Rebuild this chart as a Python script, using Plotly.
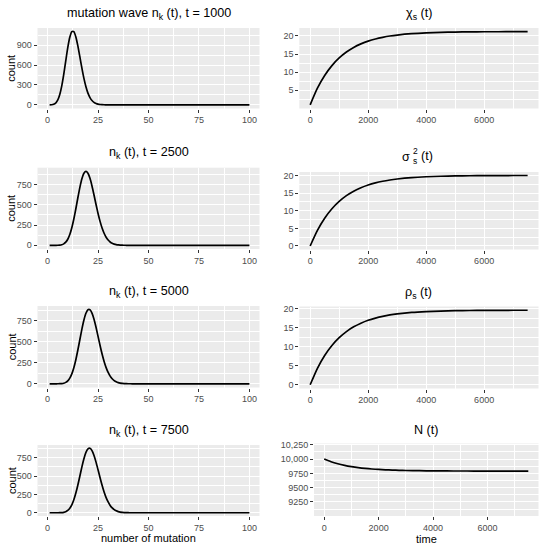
import plotly.graph_objects as go

# ---------------- data ----------------
k_vals = list(range(1, 101))

counts_t1000 = [0.3, 1.9, 8.3, 27, 70, 152, 283, 460, 664, 863, 1020, 1105, 1105, 1026,
                890, 723, 553, 399, 273, 177, 110, 65, 37, 20, 10, 5, 2.5, 1.1, 0.5] + [0.0] * 71
counts_t2500 = [0, 0, 0, 0.2, 0.8, 2.6, 7.3, 17.8, 38.6, 75, 133, 217, 325, 452, 588, 717,
                822, 891, 914, 891, 828, 734, 622, 505, 394, 296, 214, 149, 100, 65, 41, 25,
                15, 8.5, 4.7, 2.5, 1.3, 0.7, 0.3] + [0.0] * 61
counts_t5000 = [0, 0, 0, 0, 0.3, 0.9, 2.7, 7.2, 16.8, 35.4, 67.5, 118, 191, 286, 401, 526,
                650, 758, 838, 880, 880, 840, 767, 671, 564, 455, 354, 266, 192, 135, 91, 60,
                38, 23.5, 14.1, 8.2, 4.7, 2.5, 1.4, 0.7, 0.4] + [0.0] * 59
counts_t7500 = [0, 0, 0, 0, 0.2, 0.8, 2.4, 6.4, 15, 31.9, 61.4, 108, 177, 268, 378, 501,
                625, 736, 822, 871, 879, 847, 781, 690, 585, 477, 375, 284, 207, 147, 100, 66,
                43, 26.6, 16.1, 9.4, 5.5, 3.0, 1.6, 0.9, 0.4] + [0.0] * 59

time_vals = [0, 250, 500, 750, 1000, 1250, 1500, 1750, 2000, 2250, 2500, 2750, 3000,
             3500, 4000, 4500, 5000, 5500, 6000, 6500, 7000, 7500]
chi_vals = [0.95, 5.55, 9.07, 11.80, 13.92, 15.56, 16.83, 17.81, 18.58, 19.17, 19.62, 19.98,
            20.25, 20.63, 20.86, 21.00, 21.08, 21.13, 21.16, 21.17, 21.18, 21.19]
sigma2_vals = [0.0, 4.42, 7.87, 10.55, 12.64, 14.27, 15.54, 16.52, 17.29, 17.89, 18.36, 18.72,
               19.00, 19.40, 19.63, 19.78, 19.87, 19.92, 19.95, 19.97, 19.98, 19.98]
rho_vals = [0.0, 4.34, 7.71, 10.34, 12.39, 13.98, 15.23, 16.19, 16.95, 17.53, 17.99, 18.35,
            18.62, 19.01, 19.24, 19.38, 19.47, 19.52, 19.55, 19.57, 19.58, 19.59]
N_vals = [10000, 9953.5, 9917.4, 9889.2, 9867.3, 9850.2, 9836.9, 9826.5, 9818.4, 9812.1,
          9807.2, 9803.4, 9800.5, 9796.3, 9793.8, 9792.3, 9791.4, 9790.9, 9790.5, 9790.3,
          9790.2, 9790.1]

left_titles = ["mutation wave n<sub>k</sub> (t), t = 1000", "n<sub>k</sub> (t), t = 2500",
               "n<sub>k</sub> (t), t = 5000", "n<sub>k</sub> (t), t = 7500"]
right_titles = ["χ<sub>s</sub> (t)", None, "ρ<sub>s</sub> (t)", "N (t)"]
N_tickvals = [9250, 9500, 9750, 10000, 10250]
N_ticktext = ["9250", "9500", "9750", "10,000", "10,250"]

# ---------------- layout helpers ----------------
W, H = 550, 545
FONT = "Liberation Sans, Arial, sans-serif"
PANEL_BG = "#EBEBEB"
TICK_FONT = dict(family=FONT, size=9, color="#4D4D4D")

def xd(a, b):
    return [a / W, b / W]

def yd(top, bottom):
    return [1 - bottom / H, 1 - top / H]

def expand(vals, frac=0.05):
    lo, hi = min(vals), max(vals)
    s = (hi - lo) * frac
    return [lo - s, hi + s]

rows_left = [(28, 108.5), (167.7, 249), (306, 387.5), (445, 516)]
rows_right = [(28, 108.5), (172, 249.5), (306.5, 388.5), (443.5, 516)]
left_x = (37.5, 259.5)
right_x = [(299.3, 538.5), (299.3, 538.5), (299.3, 538.5), (314, 538.5)]

fig = go.Figure()
layout = dict(width=W, height=H, margin=dict(l=0, r=0, t=0, b=0),
              paper_bgcolor="white", plot_bgcolor=PANEL_BG, showlegend=False,
              font=dict(family=FONT, color="black"))
annotations = []

def axis_common():
    return dict(showgrid=True, gridcolor="white", gridwidth=1, zeroline=False,
                showline=False, ticks="outside", ticklen=3, tickwidth=1,
                tickcolor="#333333", tickfont=TICK_FONT, automargin=False,
                fixedrange=True)

wave_data = [counts_t1000, counts_t2500, counts_t5000, counts_t7500]
right_data = [chi_vals, sigma2_vals, rho_vals, N_vals]

idx = 0
for r in range(4):
    # ----- left panel -----
    idx += 1
    xa = "x" if idx == 1 else f"x{idx}"
    ya = "y" if idx == 1 else f"y{idx}"
    top, bot = rows_left[r]
    fig.add_trace(go.Scatter(x=k_vals, y=wave_data[r], mode="lines",
                             line=dict(color="black", width=1.7, shape="spline", smoothing=0.6),
                             xaxis=xa, yaxis=ya, hoverinfo="skip"))
    xax = axis_common()
    xax.update(domain=xd(*left_x), range=[-5, 105], tickvals=[0, 25, 50, 75, 100],
               anchor=ya, minor=dict(tickvals=[12.5, 37.5, 62.5, 87.5], showgrid=True,
                                      gridcolor="white", gridwidth=0.5, ticks=""))
    yax = axis_common()
    yr = expand(wave_data[r])
    if r == 0:
        ytv = [0, 300, 600, 900]
        ymv = [150, 450, 750, 1050]
    else:
        ytv = [0, 250, 500, 750]
        ymv = [125, 375, 625, 875]
    yax.update(domain=yd(top, bot), range=yr, tickvals=ytv, anchor=xa,
               minor=dict(tickvals=ymv, showgrid=True, gridcolor="white", gridwidth=0.5, ticks=""))
    layout["xaxis" if idx == 1 else f"xaxis{idx}"] = xax
    layout["yaxis" if idx == 1 else f"yaxis{idx}"] = yax
    annotations.append(dict(text=left_titles[r], x=(left_x[0] + left_x[1]) / 2 / W,
                            y=1 - (top - 14.3) / H, xref="paper", yref="paper",
                            xanchor="center", yanchor="middle", showarrow=False,
                            font=dict(family=FONT, size=12.6, color="black")))
    annotations.append(dict(text="count", x=11.5 / W, y=1 - (top + bot) / 2 / H,
                            xref="paper", yref="paper", xanchor="center", yanchor="middle",
                            textangle=-90, showarrow=False,
                            font=dict(family=FONT, size=11, color="black")))

    # ----- right panel -----
    idx += 1
    xa = f"x{idx}"
    ya = f"y{idx}"
    top, bot = rows_right[r]
    fig.add_trace(go.Scatter(x=time_vals, y=right_data[r], mode="lines",
                             line=dict(color="black", width=1.7, shape="spline", smoothing=0.6),
                             xaxis=xa, yaxis=ya, hoverinfo="skip"))
    xax = axis_common()
    xax.update(domain=xd(*right_x[r]), range=[-375, 7875], tickvals=[0, 2000, 4000, 6000],
               anchor=ya, minor=dict(tickvals=[1000, 3000, 5000, 7000], showgrid=True,
                                      gridcolor="white", gridwidth=0.5, ticks=""))
    yax = axis_common()
    if r == 3:
        yr = [9005, 10272]
        yax.update(tickvals=N_tickvals, ticktext=N_ticktext,
                   minor=dict(tickvals=[9125, 9375, 9625, 9875, 10125], showgrid=True,
                              gridcolor="white", gridwidth=0.5, ticks=""))
    else:
        yr = expand(right_data[r])
        tv = [5, 10, 15, 20] if r == 0 else [0, 5, 10, 15, 20]
        yax.update(tickvals=tv,
                   minor=dict(tickvals=[2.5, 7.5, 12.5, 17.5], showgrid=True,
                              gridcolor="white", gridwidth=0.5, ticks=""))
    yax.update(domain=yd(top, bot), range=yr, anchor=xa)
    layout[f"xaxis{idx}"] = xax
    layout[f"yaxis{idx}"] = yax
    cx = (right_x[r][0] + right_x[r][1]) / 2
    if right_titles[r] is not None:
        annotations.append(dict(text=right_titles[r], x=cx / W,
                                y=1 - (top - 13.5) / H, xref="paper", yref="paper",
                                xanchor="center", yanchor="middle", showarrow=False,
                                font=dict(family=FONT, size=12.6, color="black")))
    else:
        annotations.append(dict(text="σ", x=411.5 / W, y=1 - 157 / H, xref="paper", yref="paper",
                                xanchor="right", yanchor="middle", showarrow=False,
                                font=dict(family=FONT, size=12.6, color="black")))
        annotations.append(dict(text="2", x=410.5 / W, y=1 - 151 / H, xref="paper", yref="paper",
                                xanchor="left", yanchor="middle", showarrow=False,
                                font=dict(family=FONT, size=8.5, color="black")))
        annotations.append(dict(text="s", x=410.5 / W, y=1 - 161 / H, xref="paper", yref="paper",
                                xanchor="left", yanchor="middle", showarrow=False,
                                font=dict(family=FONT, size=8.5, color="black")))
        annotations.append(dict(text="(t)", x=419 / W, y=1 - 156 / H, xref="paper", yref="paper",
                                xanchor="left", yanchor="middle", showarrow=False,
                                font=dict(family=FONT, size=12.6, color="black")))

annotations.append(dict(text="number of mutation", x=(left_x[0] + left_x[1]) / 2 / W,
                        y=1 - 537.5 / H, xref="paper", yref="paper", xanchor="center",
                        yanchor="middle", showarrow=False,
                        font=dict(family=FONT, size=11, color="black")))
annotations.append(dict(text="time", x=(right_x[3][0] + right_x[3][1]) / 2 / W,
                        y=1 - 538.5 / H, xref="paper", yref="paper", xanchor="center",
                        yanchor="middle", showarrow=False,
                        font=dict(family=FONT, size=11, color="black")))

layout["annotations"] = annotations
fig.update_layout(**layout)
fig.write_html("out.html", config={"displayModeBar": False},
               post_script="document.body.style.margin='0';document.body.style.padding='0';")
